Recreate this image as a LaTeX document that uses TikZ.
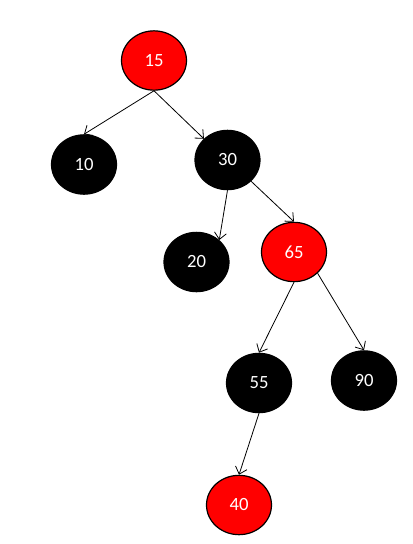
\documentclass[tikz,border=0pt]{standalone}
\usepackage{fontspec}
\setmainfont{Carlito}
\usetikzlibrary{shapes.geometric,arrows.meta}
\begin{document}
\begin{tikzpicture}[x=0.75pt,y=-0.75pt,
  rbnode/.style={ellipse,draw=black,line width=0.9pt,minimum width=48.75pt,minimum height=44.5pt,inner sep=0pt,text=white,font=\fontsize{14}{16}\selectfont},
  rednode/.style={rbnode,fill=red},
  blacknode/.style={rbnode,fill=black},
  edge/.style={line width=0.6pt,-{Straight Barb[length=5pt,width=9pt]}}]
\useasboundingbox[fill=white] (0,0) rectangle (413,544);
\node[rednode] (n15) at (154,60.5) {15};
\node[blacknode] (n10) at (84,164.5) {10};
\node[blacknode] (n30) at (227.5,160) {30};
\node[blacknode] (n20) at (196.5,262) {20};
\node[rednode] (n65) at (294,252) {65};
\node[blacknode] (n55) at (259,383) {55};
\node[blacknode] (n90) at (364,380.5) {90};
\node[rednode] (n40) at (239,505) {40};
\draw[edge] (n15.south) -- (n10.north);
\draw[edge] (n15.south) -- (n30.138);
\draw[edge] (n30.south) -- (n20.44);
\draw[edge] (n30.-42) -- (n65.north);
\draw[edge] (n65.south) -- (n55.north);
\draw[edge] (n65.-42) -- (n90.north);
\draw[edge] (n55.south) -- (n40.north);
\end{tikzpicture}
\end{document}
